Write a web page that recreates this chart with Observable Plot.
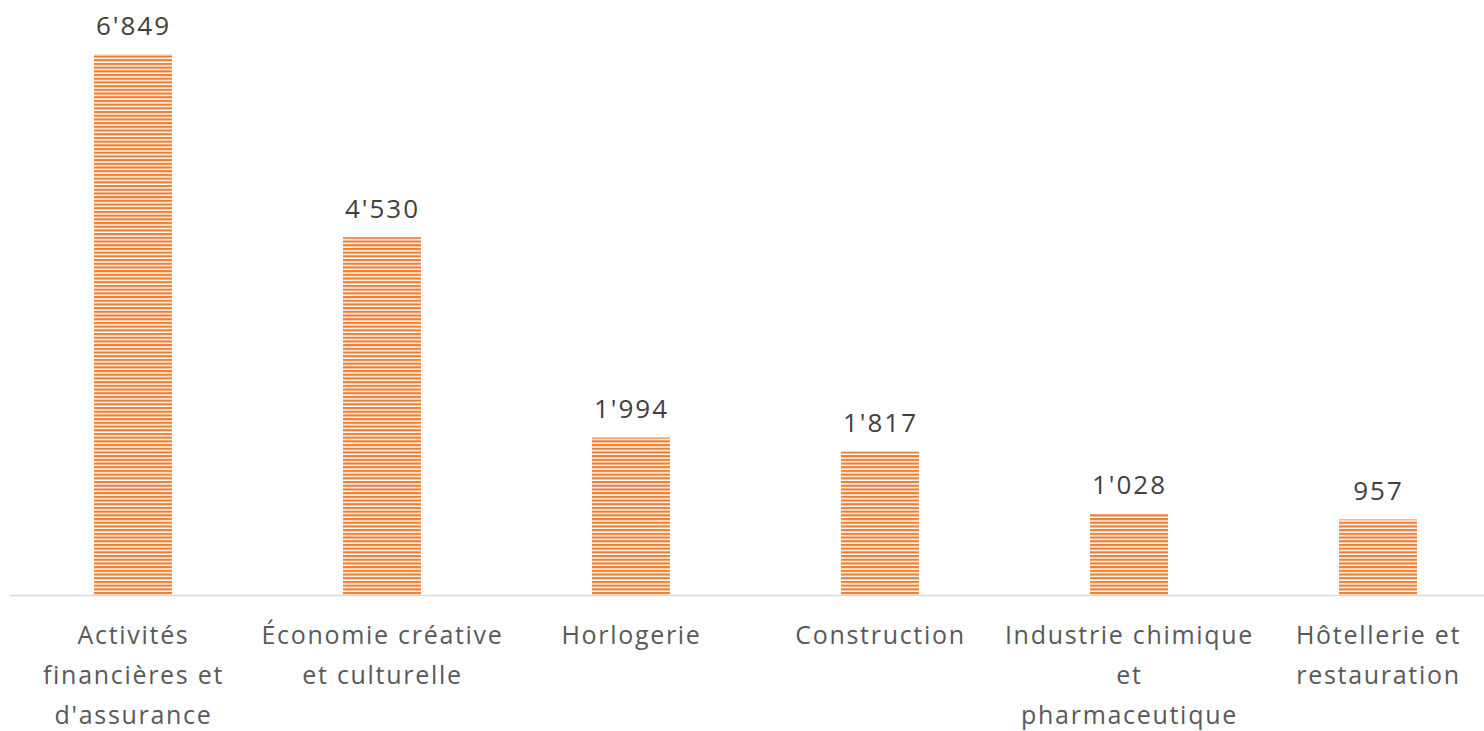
<!DOCTYPE html>
<html>
<head>
<meta charset="utf-8">
<script src="https://cdn.jsdelivr.net/npm/d3@7"></script>
<script src="https://cdn.jsdelivr.net/npm/@observablehq/plot@0.6"></script>
<style>
  html, body { margin: 0; padding: 0; background: #fff; }
  #chart svg { display: block; }
  #chart text.cat { letter-spacing: 1.7px; }
  #chart text.val { letter-spacing: 2px; }
</style>
</head>
<body>
<div id="chart"></div>
<script>
const categories = [
  "Activités\nfinancières et\nd'assurance",
  "Économie créative\net culturelle",
  "Horlogerie",
  "Construction",
  "Industrie chimique\net\npharmaceutique",
  "Hôtellerie et\nrestauration"
];
const values = [6849, 4530, 1994, 1817, 1028, 957];
const valueLabels = ["6'849", "4'530", "1'994", "1'817", "1'028", "957"];

const data = categories.map((c, i) => ({category: c, value: values[i], label: valueLabels[i]}));

const font = "'Open Sans', 'Noto Sans', sans-serif";

const chart = Plot.plot({
  width: 1484,
  height: 731,
  marginLeft: 10,
  marginRight: 0,
  marginTop: 54,
  marginBottom: 136,
  style: {fontFamily: font, background: "#fff"},
  x: {domain: categories, range: [8.5, 1502.5], paddingInner: 0.687, paddingOuter: 0.3435, axis: null},
  y: {domain: [0, 6849], axis: null},
  marks: [
    Plot.barY(data, {x: "category", y: "value", fill: "url(#stripes)"}),
    Plot.ruleY([0], {stroke: "#d9d9d9", strokeWidth: 1.3}),
    Plot.text(data, {x: "category", y: "value", text: "label", lineAnchor: "bottom", dy: -20, fontSize: 26, fill: "#404040", className: "val"}),
    Plot.text(data, {x: "category", y: 0, text: "category", lineAnchor: "top", dy: 20, fontSize: 25, lineHeight: 1.6, fill: "#595959", className: "cat"})
  ]
});

chart.querySelectorAll("g[aria-label='text']").forEach((g, i) => {
  g.querySelectorAll("text").forEach(t => t.classList.add(i === 0 ? "val" : "cat"));
});

const ns = "http://www.w3.org/2000/svg";
const defs = document.createElementNS(ns, "defs");
const pat = document.createElementNS(ns, "pattern");
pat.setAttribute("id", "stripes");
pat.setAttribute("patternUnits", "userSpaceOnUse");
pat.setAttribute("width", "10");
pat.setAttribute("height", "3.7");
const bg = document.createElementNS(ns, "rect");
bg.setAttribute("width", "10"); bg.setAttribute("height", "3.7"); bg.setAttribute("fill", "#ffffff");
const fg = document.createElementNS(ns, "rect");
fg.setAttribute("width", "10"); fg.setAttribute("height", "2.2"); fg.setAttribute("fill", "#ed7d31");
pat.appendChild(bg); pat.appendChild(fg);
defs.appendChild(pat);
chart.insertBefore(defs, chart.firstChild);

document.getElementById("chart").appendChild(chart);
</script>
</body>
</html>
